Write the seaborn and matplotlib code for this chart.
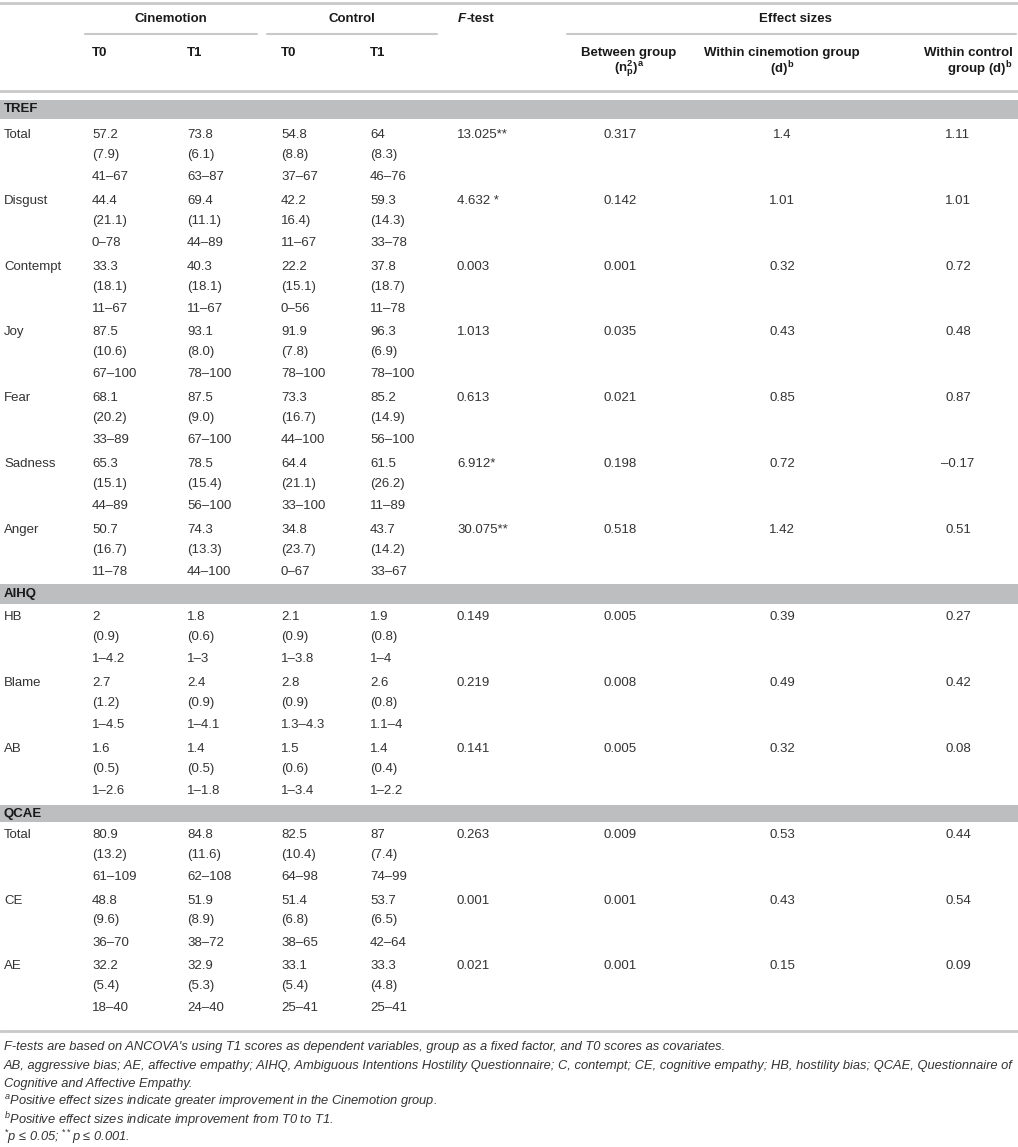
import matplotlib
matplotlib.use("Agg")
import matplotlib.pyplot as plt
import seaborn as sns

# Tabellendaten
sections = ["TREF", "AIHQ", "QCAE"]
section_measures = [
    ["Total", "Disgust", "Contempt", "Joy", "Fear", "Sadness", "Anger"],
    ["HB", "Blame", "AB"],
    ["Total", "CE", "AE"],
]

cin_t0_mean = ["57.2", "44.4", "33.3", "87.5", "68.1", "65.3", "50.7", "2", "2.7", "1.6", "80.9", "48.8", "32.2"]
cin_t0_sd = ["(7.9)", "(21.1)", "(18.1)", "(10.6)", "(20.2)", "(15.1)", "(16.7)", "(0.9)", "(1.2)", "(0.5)", "(13.2)", "(9.6)", "(5.4)"]
cin_t0_range = ["41–67", "0–78", "11–67", "67–100", "33–89", "44–89", "11–78", "1–4.2", "1–4.5", "1–2.6", "61–109", "36–70", "18–40"]

cin_t1_mean = ["73.8", "69.4", "40.3", "93.1", "87.5", "78.5", "74.3", "1.8", "2.4", "1.4", "84.8", "51.9", "32.9"]
cin_t1_sd = ["(6.1)", "(11.1)", "(18.1)", "(8.0)", "(9.0)", "(15.4)", "(13.3)", "(0.6)", "(0.9)", "(0.5)", "(11.6)", "(8.9)", "(5.3)"]
cin_t1_range = ["63–87", "44–89", "11–67", "78–100", "67–100", "56–100", "44–100", "1–3", "1–4.1", "1–1.8", "62–108", "38–72", "24–40"]

ctl_t0_mean = ["54.8", "42.2", "22.2", "91.9", "73.3", "64.4", "34.8", "2.1", "2.8", "1.5", "82.5", "51.4", "33.1"]
ctl_t0_sd = ["(8.8)", "16.4)", "(15.1)", "(7.8)", "(16.7)", "(21.1)", "(23.7)", "(0.9)", "(0.9)", "(0.6)", "(10.4)", "(6.8)", "(5.4)"]
ctl_t0_range = ["37–67", "11–67", "0–56", "78–100", "44–100", "33–100", "0–67", "1–3.8", "1.3–4.3", "1–3.4", "64–98", "38–65", "25–41"]

ctl_t1_mean = ["64", "59.3", "37.8", "96.3", "85.2", "61.5", "43.7", "1.9", "2.6", "1.4", "87", "53.7", "33.3"]
ctl_t1_sd = ["(8.3)", "(14.3)", "(18.7)", "(6.9)", "(14.9)", "(26.2)", "(14.2)", "(0.8)", "(0.8)", "(0.4)", "(7.4)", "(6.5)", "(4.8)"]
ctl_t1_range = ["46–76", "33–78", "11–78", "78–100", "56–100", "11–89", "33–67", "1–4", "1.1–4", "1–2.2", "74–99", "42–64", "25–41"]

f_test = ["13.025**", "4.632 *", "0.003", "1.013", "0.613", "6.912*", "30.075**", "0.149", "0.219", "0.141", "0.263", "0.001", "0.021"]
between_group = ["0.317", "0.142", "0.001", "0.035", "0.021", "0.198", "0.518", "0.005", "0.008", "0.005", "0.009", "0.001", "0.001"]
within_cin = ["1.4", "1.01", "0.32", "0.43", "0.85", "0.72", "1.42", "0.39", "0.49", "0.32", "0.53", "0.43", "0.15"]
within_ctl = ["1.11", "1.01", "0.72", "0.48", "0.87", "–0.17", "0.51", "0.27", "0.42", "0.08", "0.44", "0.54", "0.09"]

footnotes = [
    "F-tests are based on ANCOVA's using T1 scores as dependent variables, group as a fixed factor, and T0 scores as covariates.",
    "AB, aggressive bias; AE, affective empathy; AIHQ, Ambiguous Intentions Hostility Questionnaire; C, contempt; CE, cognitive empathy; HB, hostility bias; QCAE, Questionnaire of",
    "Cognitive and Affective Empathy.",
    "$^{a}$Positive effect sizes indicate greater improvement in the Cinemotion group.",
    "$^{b}$Positive effect sizes indicate improvement from T0 to T1.",
    "$^{*}$p ≤ 0.05; $^{**}$p ≤ 0.001.",
]

sns.set_theme(style="white")
plt.rcParams["font.family"] = ["Liberation Sans", "DejaVu Sans"]
plt.rcParams["mathtext.fontset"] = "custom"
plt.rcParams["mathtext.rm"] = "Liberation Sans"
plt.rcParams["mathtext.it"] = "Liberation Sans:italic"
plt.rcParams["mathtext.bf"] = "Liberation Sans:bold"

W, H = 1018, 1147
fig = plt.figure(figsize=(W / 100, H / 100), dpi=100)
ax = fig.add_axes([0, 0, 1, 1])
ax.set_xlim(0, W)
ax.set_ylim(H, 0)
ax.axis("off")

txt = "#333333"
hdr = "#1a1a1a"
line_c = "#c9c9c9"
band_c = "#bdbec0"
fs = 9.5

# Linien im Kopf
ax.plot([0, W], [3, 3], color=line_c, lw=2)
ax.plot([85, 257], [34, 34], color=line_c, lw=1.5)
ax.plot([267, 437], [34, 34], color=line_c, lw=1.5)
ax.plot([567, 1016], [34, 34], color=line_c, lw=1.5)
ax.plot([0, W], [91, 91], color=line_c, lw=2)

# Kopfzeilen
ax.text(171, 19, "Cinemotion", ha="center", va="center", fontsize=fs, weight="bold", color=hdr)
ax.text(352, 19, "Control", ha="center", va="center", fontsize=fs, weight="bold", color=hdr)
f_txt = ax.text(458, 19, "F", ha="left", va="center", fontsize=fs, weight="bold", style="italic", color=hdr)
fig.canvas.draw()
bb = f_txt.get_window_extent()
ax.text(458 + bb.width, 19, "-test", ha="left", va="center", fontsize=fs, weight="bold", color=hdr)
ax.text(795, 19, "Effect sizes", ha="center", va="center", fontsize=fs, weight="bold", color=hdr)

col_x = [92, 187, 281, 370]
for x, lab in zip(col_x, ["T0", "T1", "T0", "T1"]):
    ax.text(x, 53, lab, ha="left", va="center", fontsize=fs, weight="bold", color=hdr)

ax.text(629, 53, "Between group", ha="center", va="center", fontsize=fs, weight="bold", color=hdr)
ax.text(629, 69, r"(n$\mathbf{^{2}_{p}}$)$\mathbf{^{a}}$", ha="center", va="center", fontsize=fs, weight="bold", color=hdr)
ax.text(782, 53, "Within cinemotion group", ha="center", va="center", fontsize=fs, weight="bold", color=hdr)
ax.text(782, 69, r"(d)$\mathbf{^{b}}$", ha="center", va="center", fontsize=fs, weight="bold", color=hdr)
ax.text(1013, 53, "Within control", ha="right", va="center", fontsize=fs, weight="bold", color=hdr)
ax.text(1013, 69, r"group (d)$\mathbf{^{b}}$", ha="right", va="center", fontsize=fs, weight="bold", color=hdr)

# Abschnitte: (Band oben, Band unten, erste Zeile, Schritt)
layout = [(100, 119, 135, 65.8), (584, 604, 617, 66.0), (805, 822, 835, 65.5)]

groups = [
    (cin_t0_mean, cin_t0_sd, cin_t0_range),
    (cin_t1_mean, cin_t1_sd, cin_t1_range),
    (ctl_t0_mean, ctl_t0_sd, ctl_t0_range),
    (ctl_t1_mean, ctl_t1_sd, ctl_t1_range),
]

i = 0
for sec, measures, (b0, b1, y0, step) in zip(sections, section_measures, layout):
    ax.fill_between([0, W], b0, b1, color=band_c, lw=0)
    ax.text(4, (b0 + b1) / 2, sec, ha="left", va="center", fontsize=fs, weight="bold", color=hdr)
    for k, m in enumerate(measures):
        y = y0 + k * step
        ax.text(4, y, m, ha="left", va="center", fontsize=fs, color=txt)
        for x, (mn, sd, rg) in zip(col_x, groups):
            ax.text(x, y, mn[i], ha="left", va="center", fontsize=fs, color=txt)
            ax.text(x, y + 20, sd[i], ha="left", va="center", fontsize=fs, color=txt)
            ax.text(x, y + 42, rg[i], ha="left", va="center", fontsize=fs, color=txt)
        ax.text(457, y, f_test[i], ha="left", va="center", fontsize=fs, color=txt)
        ax.text(620, y, between_group[i], ha="center", va="center", fontsize=fs, color=txt)
        ax.text(782, y, within_cin[i], ha="center", va="center", fontsize=fs, color=txt)
        ax.text(958, y, within_ctl[i], ha="center", va="center", fontsize=fs, color=txt)
        i += 1

ax.plot([0, W], [1031, 1031], color=line_c, lw=2)

# Fussnoten, Groesse so dass die lange Zeile bis zum rechten Rand reicht
probe = ax.text(4, 0, footnotes[1], fontsize=10, style="italic")
fig.canvas.draw()
foot_fs = 10 * 1008 / probe.get_window_extent().width
probe.remove()

foot_y = [1047, 1066, 1084, 1102, 1120, 1137]
for y, t in zip(foot_y, footnotes):
    ax.text(4, y, t, ha="left", va="center", fontsize=foot_fs, style="italic", color=txt)

fig.savefig("out.png", dpi=100)
plt.close(fig)
